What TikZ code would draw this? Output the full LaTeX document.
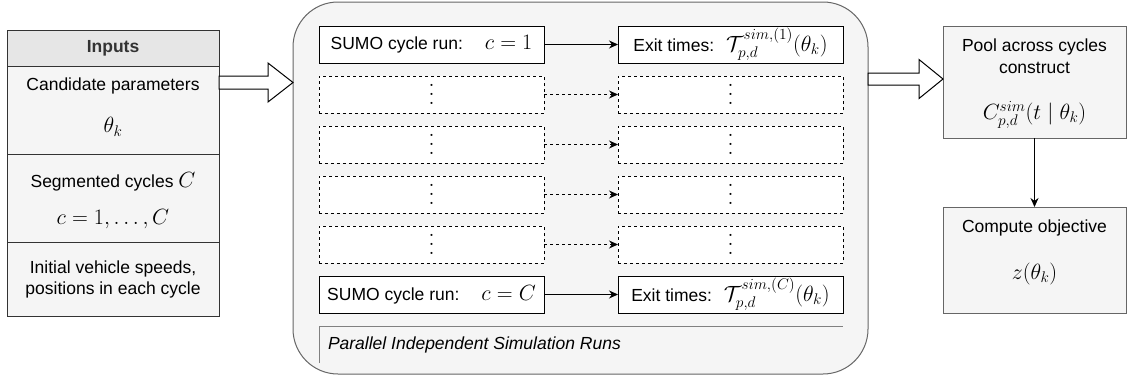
\RequirePackage{fix-cm}
\documentclass[tikz,border=0pt]{standalone}
\usepackage{amsmath}
\usepackage{fontspec}
\setmainfont{Liberation Sans}
\usetikzlibrary{arrows.meta,calc}

\definecolor{panelfill}{HTML}{F5F5F5}
\definecolor{headfill}{HTML}{E6E6E6}
\definecolor{edgegray}{HTML}{666666}
\definecolor{darkedge}{HTML}{333333}
\definecolor{capline}{HTML}{808080}

\newcommand\fs{\fontsize{17.5pt}{21pt}\selectfont}
% formulas are set a little larger than the surrounding labels
\newcommand\mth[1]{{\fontsize{22pt}{26pt}\selectfont$#1$}}
% three widely spaced dots for the elided rows
\newcommand\rowdots{\vbox{\offinterlineskip
  \hbox{\mth{.}}\kern6.5pt\hbox{\mth{.}}\kern6.5pt\hbox{\mth{.}}}}

% hollow block arrow: start, tip, shaft half-width, head half-width, head length
\newcommand\hollowarrow[5]{%
  \draw[hollow] let \p1=(#1), \p2=(#2) in
    (\x1,\y1+#3) -- (\x2-#5,\y1+#3) -- (\x2-#5,\y1+#4) -- (\x2,\y1)
    -- (\x2-#5,\y1-#4) -- (\x2-#5,\y1-#3) -- (\x1,\y1-#3) -- cycle;}

\begin{document}
\begin{tikzpicture}[x=1pt,y=-1pt,
  every node/.style={font=\fs, inner sep=0pt, outer sep=0pt},
  cell/.style={draw=darkedge, fill=panelfill, line width=1pt,
    minimum width=212pt, anchor=north west},
  runbox/.style={draw=black, fill=white, line width=1pt,
    minimum width=225pt, minimum height=37pt, anchor=north west},
  ghostbox/.style={runbox, dash pattern=on 3pt off 3pt},
  greybox/.style={draw=edgegray, fill=panelfill, line width=1pt,
    minimum width=183pt, anchor=north west},
  flow/.style={-{Stealth[length=9pt,width=8pt]}, line width=1pt},
  ghostflow/.style={flow, dash pattern=on 3pt off 3pt},
  hollow/.style={draw=black, fill=white, line width=1pt, line join=miter}]

\useasboundingbox (0,0) rectangle (1129,380);

% ---- inputs panel ----
\node[cell, fill=headfill, minimum height=36pt] (head) at (7,30) {};
\node[cell, minimum height=88pt] (cand) at (7,66) {};
\node[cell, minimum height=88pt] (seg) at (7,154) {};
\node[cell, minimum height=74pt] (init) at (7,242) {};
\node[font=\fs\bfseries, text=darkedge] (headtxt) at (113,48) {Inputs};
\node (candtxt) at (113,86) {Candidate parameters};
\node (candmath) at (113,127) {\mth{\theta_k}};
\node (segtxt) at (113,182) {Segmented cycles \mth{C}};
\node (segmath) at (113,219) {\mth{c = 1, \ldots, C}};
\node (inittxta) at (113,269) {Initial vehicle speeds,};
\node (inittxtb) at (113,290) {positions in each cycle};

% ---- simulation container ----
\node[draw=edgegray, fill=panelfill, line width=1pt, rounded corners=45pt,
  minimum width=575pt, minimum height=372pt, anchor=north west] (sim) at (293,2) {};

\node[runbox] (l1) at (319,26) {SUMO cycle run:\hspace{22pt}\mth{c = 1}};
\node[runbox] (r1) at (618,26) {Exit times:\hspace{12pt}\mth{\mathcal{T}^{sim,(1)}_{p,d}(\theta_k)}};
\node[ghostbox] (l2) at (319,76) {\rowdots};
\node[ghostbox] (r2) at (618,76) {\rowdots};
\node[ghostbox] (l3) at (319,126) {\rowdots};
\node[ghostbox] (r3) at (618,126) {\rowdots};
\node[ghostbox] (l4) at (319,176) {\rowdots};
\node[ghostbox] (r4) at (618,176) {\rowdots};
\node[ghostbox] (l5) at (319,226) {\rowdots};
\node[ghostbox] (r5) at (618,226) {\rowdots};
\node[runbox] (l6) at (319,276) {SUMO cycle run:\hspace{22pt}\mth{c = C}};
\node[runbox] (r6) at (618,276) {Exit times:\hspace{12pt}\mth{\mathcal{T}^{sim,(C)}_{p,d}(\theta_k)}};

\draw[flow] (l1) -- (r1);
\draw[ghostflow] (l2) -- (r2);
\draw[ghostflow] (l3) -- (r3);
\draw[ghostflow] (l4) -- (r4);
\draw[ghostflow] (l5) -- (r5);
\draw[flow] (l6) -- (r6);

% caption strip of the container
\coordinate (capL) at (l6.west |- 0,326);
\coordinate (capR) at (r6.east |- 0,326);
\draw[capline, line width=1pt] (capL |- 0,363) -- (capL) -- (capR);
\node[anchor=west, font=\fs\itshape] (captxt) at (328,345) {Parallel Independent Simulation Runs};

% ---- pooling and objective ----
\node[greybox, minimum height=112pt] (pool) at (943,26) {};
\node (pooltxta) at (1034.5,47) {Pool across cycles};
\node (pooltxtb) at (1034.5,68) {construct};
\node (poolmath) at (1034.5,115) {\mth{C^{sim}_{p,d}(t \mid \theta_k)}};

\node[greybox, minimum height=106pt] (obj) at (943,207) {};
\node (objtxt) at (1034.5,228) {Compute objective};
\node (objmath) at (1034.5,274) {\mth{z(\theta_k)}};

\draw[flow] (pool) -- (obj);

% ---- hollow transfer arrows ----
\coordinate (a1s) at (cand.east |- 0,82.5);
\coordinate (a1e) at (sim.west |- 0,82.5);
\hollowarrow{a1s}{a1e}{6.5pt}{19.5pt}{25pt}
\coordinate (a2s) at (sim.east |- 0,79);
\coordinate (a2e) at (pool.west |- 0,79);
\hollowarrow{a2s}{a2e}{6pt}{19.5pt}{24pt}

\end{tikzpicture}
\end{document}
